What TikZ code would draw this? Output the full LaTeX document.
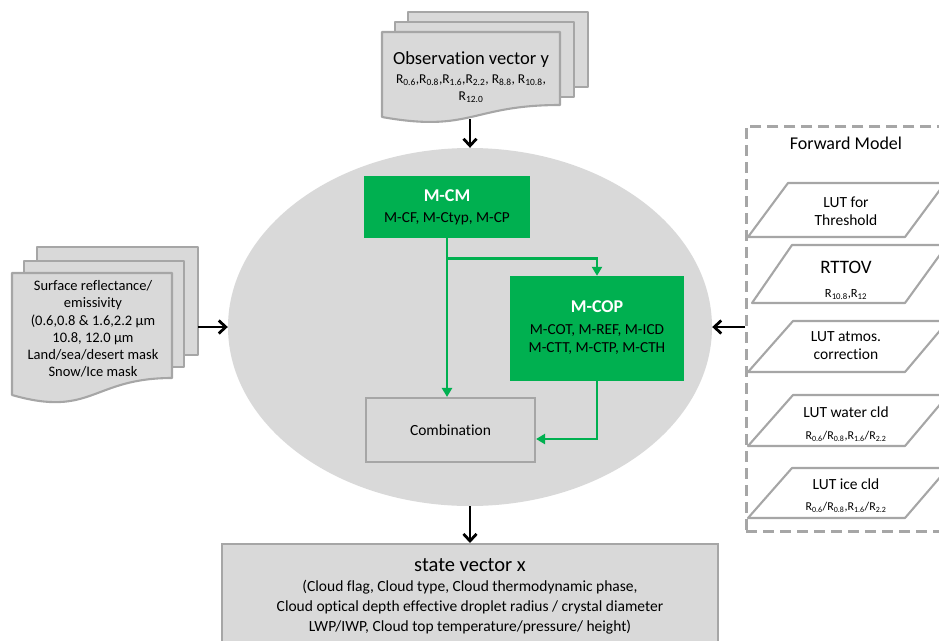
\documentclass[tikz,border=0pt]{standalone}
\usepackage{fontspec}
\setmainfont{Carlito}[Ligatures=NoCommon]
\usetikzlibrary{shapes.geometric,arrows.meta,calc}
\definecolor{lg}{HTML}{D9D9D9}
\definecolor{bd}{HTML}{A6A6A6}
\definecolor{gn}{HTML}{00B050}
\newcommand\Rsub[1]{R\textsubscript{#1}}
\newcommand\fs[2]{\fontsize{#1}{#2}\selectfont}
\begin{document}
\begin{tikzpicture}[x=1pt,y=-1pt,
  page/.style={fill=lg,draw=bd,line width=2.1pt,line join=round},
  blk/.style={line width=2.8pt,-{Straight Barb[length=7pt,width=13pt]}},
  grn/.style={draw=gn,line width=2.7pt,-{Triangle[length=9pt,width=10pt]}},
  gbox/.style={rectangle,fill=gn,draw=gn,inner sep=0pt,align=center},
  para/.style={fill=white,draw=bd,line width=2.1pt,line join=round},
  lbl/.style={inner sep=0pt,align=center},
]
\useasboundingbox (0,0) rectangle (939,640);
\clip (0,0) rectangle (939,640);

% observation documents
\draw[page] (408,12) rectangle (588,87);
\draw[page] (395,22) rectangle (574,97);
\draw[page] (382,32) -- (560,32) -- (560,105) .. controls (471,105) and (471,133) .. (382,117) -- cycle;
\node[lbl,font=\fs{18.5}{22}] (obst) at (471,60) {Observation vector y};
\node[lbl,font=\fs{13.5}{17}] (obsr) at (471,89) {\Rsub{0.6},\Rsub{0.8},\Rsub{1.6},\Rsub{2.2}, \Rsub{8.8}, \Rsub{10.8},\\\Rsub{12.0}};

% surface documents
\draw[page] (37,247) rectangle (198,355);
\draw[page] (24,261) rectangle (184,367);
\draw[page] (12,273) -- (172,273) -- (172,378) .. controls (92,378) and (92,418) .. (12,395) -- cycle;
\node[lbl,font=\fs{14.5}{17.2}] (sfc) at (93,329) {Surface reflectance/\\emissivity\\(0.6,0.8 \& 1.6,2.2 µm\\10.8, 12.0 µm\\Land/sea/desert mask\\Snow/Ice mask};

% central ellipse
\node[ellipse,fill=lg,minimum width=484pt,minimum height=358pt,inner sep=0pt] (ell) at (470,327) {};

\node[gbox,minimum width=165pt,minimum height=61pt,font=\fs{15.3}{21}] (mcm) at (447,207)
  {{\bfseries\color{white}\fs{18}{21}M-CM}\\M-CF, M-Ctyp, M-CP};
\node[gbox,minimum width=173pt,minimum height=104pt,font=\fs{15.3}{18}] (mcop) at (597,328)
  {{\bfseries\color{white}\fs{18}{22}M-COP}\\[4pt]M-COT, M-REF, M-ICD\\M-CTT, M-CTP, M-CTH};
\node[rectangle,fill=lg,draw=bd,line width=2.1pt,minimum width=169pt,minimum height=64pt,font=\fs{15.5}{19}] (comb) at (450.5,430) {Combination};

% state vector
\node[rectangle,fill=lg,draw=bd,line width=1.8pt,minimum width=496pt,minimum height=130pt,anchor=north] (sv) at (470,543) {};
\node[lbl,font=\fs{15.5}{20}] (svt) at (470,596) {{\fs{20.5}{24}state vector x}\\(Cloud flag, Cloud type, Cloud thermodynamic phase,\\Cloud optical depth effective droplet radius / crystal diameter\\LWP/IWP, Cloud top temperature/pressure/ height)};

% forward model
\node[rectangle,draw=bd,line width=2.5pt,dash pattern=on 11pt off 6pt,minimum width=230pt,minimum height=405pt,anchor=north west] (fm) at (745,125) {};
\node[lbl,font=\fs{18}{22}] (fmt) at (846,143) {Forward Model};

\draw[para] (748,237) -- (905,237) -- (945,183) -- (788,183) -- cycle;
\node[lbl,font=\fs{15.5}{18}] (p1) at (846,211) {LUT for\\Threshold};
\draw[para] (752,303) -- (905,303) -- (947,245) -- (792,245) -- cycle;
\node[lbl,font=\fs{12.5}{24}] (p2) at (846,280) {{\fs{19}{22}RTTOV}\\\Rsub{10.8},\Rsub{12}};
\draw[para] (748,372) -- (905,372) -- (948,321) -- (793,321) -- cycle;
\node[lbl,font=\fs{15.5}{18}] (p3) at (846,346) {LUT atmos.\\correction};
\draw[para] (748,446) -- (905,446) -- (948,395) -- (793,395) -- cycle;
\node[lbl,font=\fs{12}{22}] (p4) at (846,424) {{\fs{15.5}{19}LUT water cld}\\\Rsub{0.6}/\Rsub{0.8},\Rsub{1.6}/\Rsub{2.2}};
\draw[para] (748,518) -- (905,518) -- (948,468) -- (792,468) -- cycle;
\node[lbl,font=\fs{12}{21}] (p5) at (846,496) {{\fs{15.5}{19}LUT ice cld}\\\Rsub{0.6}/\Rsub{0.8},\Rsub{1.6}/\Rsub{2.2}};

% black connectors
\coordinate (obsb) at (470,119);
\coordinate (lft) at (198,327);
\draw[blk] (obsb) -- (ell.north);
\draw[blk] (lft) -- (ell.west);
\draw[blk] (fm.west |- ell.east) -- (ell.east);
\draw[blk] (ell.south) -- (sv.north);

% green connectors
\coordinate (br) at ($(mcm.south)+(0,21)$);
\draw[grn] (mcm.south) -- (mcm.south |- comb.north);
\draw[grn] (br) -| (mcop.north);
\draw[grn] (mcop.south) |- ([yshift=-9pt]comb.east);
\end{tikzpicture}
\end{document}
